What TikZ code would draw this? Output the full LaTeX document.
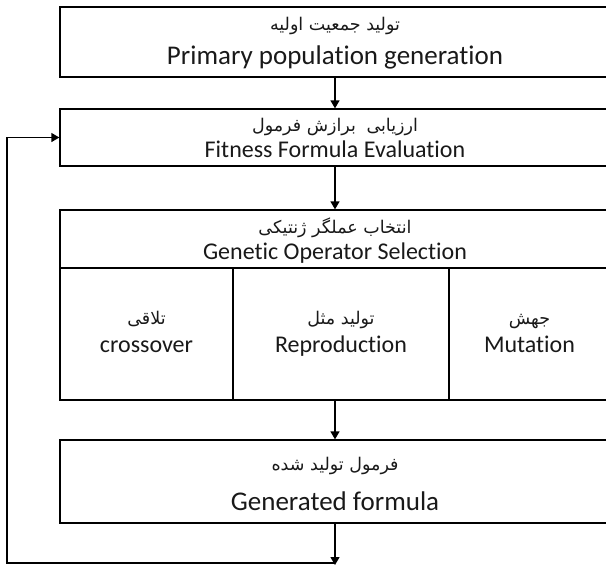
\documentclass[tikz,border=0pt]{standalone}
\usepackage{fontspec}
\setmainfont{Carlito}[Ligatures={NoCommon}]
\newfontfamily\arabicfont[Script=Arabic]{DejaVu Sans}
\TeXXeTstate=1
\usetikzlibrary{arrows.meta}
\begin{document}
\begin{tikzpicture}[x=1pt,y=-1pt,
  box/.style={draw,line width=1.3pt,inner sep=0pt,anchor=center},
  en/.style={font=\fontsize{24}{28}\selectfont,inner sep=0pt,anchor=base,text=black!90},
  enbig/.style={font=\fontsize{27}{30}\selectfont,inner sep=0pt,anchor=base,text=black!90},
  fa/.style={font=\arabicfont\fontsize{17.5}{20}\selectfont,inner sep=0pt,anchor=base,text=black!90},
  arr/.style={line width=1.3pt,-{Triangle[length=8pt,width=9pt]}}]
\useasboundingbox (0,0) rectangle (606,566);
% boxes
\node[box,minimum width=550pt,minimum height=70pt] (b1) at (335,42) {};
\node[box,minimum width=550pt,minimum height=57pt] (b2) at (335,137.5) {};
\node[box,minimum width=550pt,minimum height=190pt] (gos) at (335,305) {};
\node[box,minimum width=550pt,minimum height=58pt] (hdr) at (335,239) {};
\node[box,minimum width=173pt,minimum height=132pt] (cro) at (146.5,334) {};
\node[box,minimum width=216pt,minimum height=132pt] (rep) at (341,334) {};
\node[box,minimum width=161pt,minimum height=132pt] (mut) at (529.5,334) {};
\node[box,minimum width=550pt,minimum height=83pt] (b4) at (335,481.5) {};
% texts
\node[fa] (t1a) at (335,30) {\beginR تولید جمعیت اولیه\endR};
\node[enbig] (t1e) at (335,64) {Primary population generation};
\node[fa] (t2a) at (335,131) {\beginR ارزیابی\hspace{0.6em}برازش فرمول\endR};
\node[en] (t2e) at (335,157) {Fitness Formula Evaluation};
\node[fa] (t3a) at (335,233) {\beginR انتخاب عملگر ژنتیکی\endR};
\node[en] (t3e) at (335,259) {Genetic Operator Selection};
\node[fa] (t4a) at (146.5,324) {\beginR تلاقی\endR};
\node[en] (t4e) at (146.5,352) {crossover};
\node[fa] (t5a) at (341,324) {\beginR تولید مثل\endR};
\node[en] (t5e) at (341,352) {Reproduction};
\node[fa] (t6a) at (529.5,324) {\beginR جهش\endR};
\node[en] (t6e) at (529.5,352) {Mutation};
\node[fa] (t7a) at (335,470) {\beginR فرمول تولید شده\endR};
\node[enbig] (t7e) at (335,510) {Generated formula};
% connectors
\coordinate (end) at (335,565);
\coordinate (fb) at (335,563);
\coordinate (corner) at (7,563);
\draw[arr] (b1.south) -- (b2.north);
\draw[arr] (b2.south) -- (gos.north);
\draw[arr] (gos.south) -- (b4.north);
\draw[arr] (b4.south) -- (end);
\draw[arr] (fb) -- (corner) |- (b2.west);
\end{tikzpicture}
\end{document}
